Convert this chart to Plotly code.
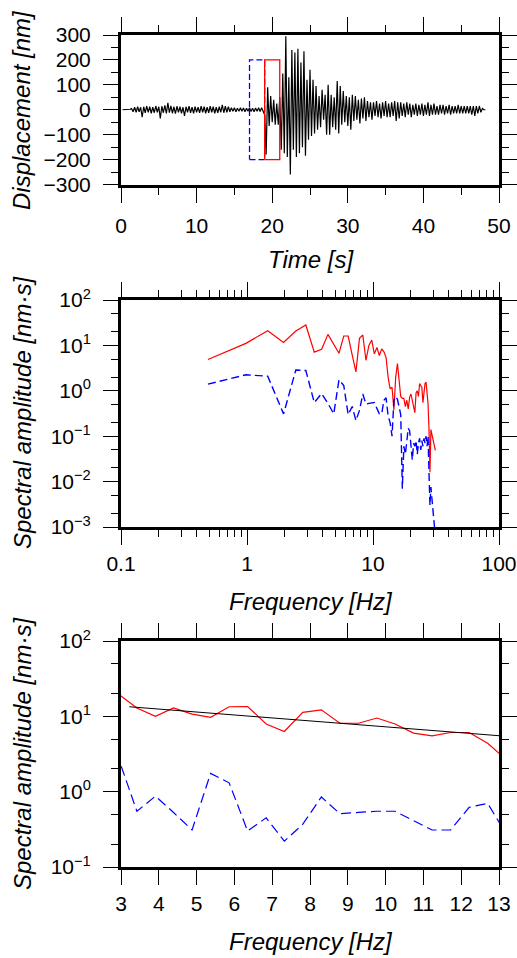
import plotly.graph_objects as go

# ---- waveform (nm), one value every 0.2 s ----
dt = 0.2
quiet_start = 0.2
quiet_nm = [0, 0, 0, 1, -1, 2,
            5, -8, 10, -10, 12, -8, 10, -30, 12, -12,
            14, -10, 12, -14, 10, -12, 15, -10, 12, -35,
            14, -12, 18, -15, 28, -12, 16, -14, 12, -16,
            14, -10, 12, -14, 10, -25, 12, -10, 14, -12,
            10, -14, 12, -10, 10, -12, 14, -10, 12, -14,
            10, -12, 14, -10, 12, -14, 10, -12, 12, -10,
            20, -12, 14, -10, 12, -8, 8, -6, 8, -8,
            6, -6, 8, -6, 7, -8, 6, -6, 8, -7,
            6, -8, 7, -6, 8, -7, 8, -10]
main_start = 19.0
main_nm = [-20, -180, 90, -65, 55, -50, 40, -60, 25, -60,
           50, -160, 145, -175, 295, -190, 130, -260, 240, -160,
           230, -190, 245, -175, 190, -150, 235, -185, 120, -120,
           160, -105, 120, -95, 95, -80, 55, -70, 80, -40, 60]
coda_start = 27.2
coda_nm = [-100, 100, -100, 60, -70, 50, -80, 115, -95, 95,
           -60, 75, -50, 55, -65, 50, -80, 60, -45, 55,
           -40, 40, -55, 45, -35, 50, -45, 35, -30, 30,
           -40, 30, -25, 35, -30, 25, -35, 30, -25, 35,
           -30, 25, -30, 30, -25, 35, -45, 30, -35, 30,
           -25, 25, -30, 30, -20, 25, -30, 20, -20, 25,
           -25, 20, -20, 25, -25, 20, -20, 30, -25, 20,
           -20, 25, -20, 15, -20, 20, -15, 20, -20, 15,
           -15, 20, -20, 15, -15, 15, -15, 20, -15, 15,
           -15, 15, -15, 15, -15, 15, -20, 15, -25, 15,
           -15, 15, -10, 5, 0, 0]

noise_win = [17, 19]
signal_win = [19, 21]
win_amp = 200

# ---- spectra (nm*s) ----
freq = [0.49, 0.98, 1.46, 1.95, 2.44, 2.93, 3.42, 3.91, 4.39, 4.88,
        5.37, 5.86, 6.35, 6.84, 7.32, 7.81, 8.30, 8.79, 9.28, 9.77,
        10.25, 10.74, 11.23, 11.72, 12.21, 12.70, 13.18, 13.67, 14.16, 14.65,
        15.14, 15.63, 16.11, 16.60, 17.09, 17.58, 18.07, 18.55, 19.04, 19.53,
        20.02, 20.51, 21.00, 21.48, 21.97, 22.46, 22.95, 23.44, 23.93, 24.41,
        24.90, 25.39, 25.88, 26.37, 26.86, 27.34, 27.83, 28.32, 28.81, 29.30,
        29.79, 30.27, 30.76, 31.25]
red_amp = [4.9, 11.1, 21.1, 11.6, 20.7, 28.1, 7.1, 8.2, 17.5, 10.9,
           6.7, 16.1, 16.1, 6.1, 2.6, 14.3, 16.9, 4.7, 10.0, 13.1,
           6.5, 9.0, 6.0, 8.4, 7.2, 5.4, 2.0, 1.1, 1.2, 0.38,
           2.0, 4.0, 1.7, 0.75, 0.68, 0.68, 0.45, 0.62, 0.4, 0.72,
           0.85, 0.6, 0.52, 0.33, 0.9, 1.0, 0.75, 1.45, 1.3, 1.2,
           0.55, 1.1, 1.45, 1.55, 0.9, 0.52, 0.14, 0.016, 0.14, 0.11,
           0.09, 0.065, 0.055, 0.049]
blue_amp = [1.40, 2.25, 2.1, 0.31, 2.86, 2.8, 0.55, 0.87, 0.53, 0.31,
            1.75, 1.31, 0.30, 0.45, 0.22, 0.37, 0.85, 0.51, 0.53, 0.55,
            0.55, 0.41, 0.31, 0.31, 0.62, 0.70, 0.28, 0.2, 0.1, 0.62,
            0.75, 0.65, 0.45, 0.3, 0.007, 0.06, 0.04, 0.08, 0.15, 0.13,
            0.05, 0.03, 0.07, 0.06, 0.08, 0.04, 0.07, 0.09, 0.05, 0.08,
            0.06, 0.09, 0.07, 0.1, 0.06, 0.1, 0.015, 0.003, 0.0076, 0.004,
            0.003, 0.0016, 0.001, 0.0007]

# bottom panel: signal spectrum over the fitting band, plus straight-line fit
band_freq = freq[5:27]
band_red = [19.8, 12.9, 10.0, 12.9, 10.7, 9.7, 13.4, 13.5, 7.9, 6.3,
            11.3, 12.2, 8.1, 8.1, 9.5, 7.9, 6.0, 5.5, 6.1, 6.1, 4.4, 2.7]
fit_freq = [3.22, 13.0]
fit_amp = [13.4, 5.53]

RED = 'rgb(255,0,0)'
BLUE = 'rgb(0,0,255)'
FONT = 'Liberation Sans, Arial, Helvetica, sans-serif'


def times(start, vals):
    return [round(start + dt * i, 3) for i in range(len(vals))]


wave_t = times(quiet_start, quiet_nm) + times(main_start, main_nm) + times(coda_start, coda_nm)
wave_v = quiet_nm + main_nm + coda_nm


def box(win, amp):
    return [win[0], win[1], win[1], win[0], win[0]], [-amp, -amp, amp, amp, -amp]


def pow10_labels(lo, hi):
    vals, text = [], []
    for p in range(lo, hi + 1):
        vals.append(10.0 ** p)
        text.append('10<sup>' + str(p).replace('-', '\u2212') + '</sup>')
    return vals, text


def minor_log(lo, hi, mults):
    return [m * 10.0 ** p for p in range(lo, hi) for m in mults]


fig = go.Figure()

fig.add_trace(go.Scatter(x=wave_t, y=wave_v, mode='lines',
                         line=dict(color='black', width=1.2), xaxis='x', yaxis='y'))
bx, by = box(noise_win, win_amp)
fig.add_trace(go.Scatter(x=bx, y=by, mode='lines',
                         line=dict(color=BLUE, width=1.3, dash='6px,3px'), xaxis='x', yaxis='y'))
bx, by = box(signal_win, win_amp)
fig.add_trace(go.Scatter(x=bx, y=by, mode='lines',
                         line=dict(color=RED, width=1.3), xaxis='x', yaxis='y'))

fig.add_trace(go.Scatter(x=freq, y=red_amp, mode='lines',
                         line=dict(color=RED, width=1.2), xaxis='x2', yaxis='y2'))
fig.add_trace(go.Scatter(x=freq, y=blue_amp, mode='lines',
                         line=dict(color=BLUE, width=1.4, dash='8px,4px'), xaxis='x2', yaxis='y2'))

fig.add_trace(go.Scatter(x=band_freq, y=band_red, mode='lines',
                         line=dict(color=RED, width=1.2), xaxis='x3', yaxis='y3'))
fig.add_trace(go.Scatter(x=freq, y=blue_amp, mode='lines',
                         line=dict(color=BLUE, width=1.2, dash='10px,5px'), xaxis='x3', yaxis='y3'))
fig.add_trace(go.Scatter(x=fit_freq, y=fit_amp, mode='lines',
                         line=dict(color='black', width=1), xaxis='x3', yaxis='y3'))

ax = dict(showline=True, linewidth=3, linecolor='black', mirror='allticks',
          ticks='outside', ticklen=15, tickwidth=1.3, tickcolor='black',
          showgrid=False, zeroline=False, automargin=False,
          tickfont=dict(family=FONT, size=21, color='black'))
xax = dict(ax, ticklabelstandoff=1)
yax = dict(ax, ticklabelstandoff=8)
minor = dict(ticks='outside', ticklen=7, tickwidth=1.3, tickcolor='black', showgrid=False)

xdom = [121 / 517, 499 / 517]
H = 958


def ydom(top, bottom):
    return [1 - bottom / H, 1 - top / H]


yv2, yt2 = pow10_labels(-3, 2)
yv3, yt3 = pow10_labels(-1, 2)

fig.update_layout(
    width=517, height=958,
    margin=dict(l=0, r=0, t=0, b=0, autoexpand=False),
    paper_bgcolor='white', plot_bgcolor='white',
    showlegend=False,
    xaxis=dict(xax, domain=xdom, anchor='y', range=[0, 50], dtick=10,
               ticklabelstandoff=5, minor=dict(minor, dtick=5)),
    yaxis=dict(yax, domain=ydom(35, 184.5), anchor='x', range=[-300, 300], dtick=100,
               minor=dict(minor, dtick=50)),
    xaxis2=dict(xax, domain=xdom, anchor='y2', type='log', range=[-1, 2],
                tickvals=[0.1, 1, 10, 100], ticktext=['0.1', '1', '10', '100'],
                minor=dict(minor, tickvals=minor_log(-1, 2, range(2, 10)))),
    yaxis2=dict(yax, domain=ydom(300, 527), anchor='x2', type='log', range=[-3, 2],
                tickvals=yv2, ticktext=yt2,
                minor=dict(minor, tickvals=minor_log(-3, 2, (2, 5)))),
    xaxis3=dict(xax, domain=xdom, anchor='y3', range=[3, 13], dtick=1),
    yaxis3=dict(yax, domain=ydom(641, 867), anchor='x3', type='log', range=[-1, 2],
                tickvals=yv3, ticktext=yt3,
                minor=dict(minor, tickvals=minor_log(-1, 2, (2, 5)))),
)

titles = [
    ('<i>Displacement [nm]</i>', 22, 110, -90),
    ('<i>Time [s]</i>', 311, 259, 0),
    ('<i>Spectral amplitude [nm\u00b7s]</i>', 22, 413, -90),
    ('<i>Frequency [Hz]</i>', 311, 601, 0),
    ('<i>Spectral amplitude [nm\u00b7s]</i>', 22, 754, -90),
    ('<i>Frequency [Hz]</i>', 311, 941, 0),
]
for text, px, py, ang in titles:
    fig.add_annotation(text=text, x=px / 517, y=1 - py / H, xref='paper', yref='paper',
                       xanchor='center', yanchor='middle', textangle=ang, showarrow=False,
                       font=dict(family=FONT, size=24, color='black'))

# the page's default body margin would push the 517x958 figure off the window
fig.write_html("out.html", config={'displayModeBar': False},
               post_script="document.body.style.margin='0';document.body.style.overflow='hidden';")
